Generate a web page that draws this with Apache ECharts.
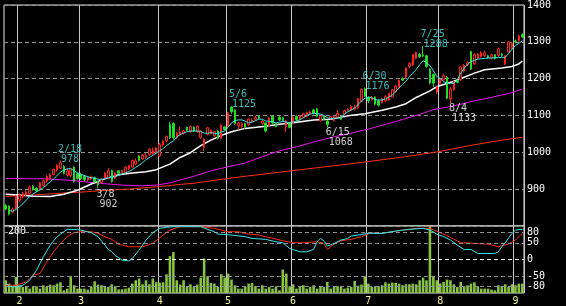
<!DOCTYPE html>
<html><head><meta charset="utf-8">
<script src="https://cdn.jsdelivr.net/npm/echarts@6/dist/echarts.min.js"></script>
<style>html,body{margin:0;padding:0;background:#000;}#c{width:566px;height:306px;}</style>
</head><body><div id="c"></div>
<script>
// month boundaries (category index of first trading day) and labels
const monthStarts = [4,22,45,65,84,106,127,149];
const monthLabels = ['2','3','4','5','6','7','8','9'];

const openP = [856,854,838,849,870,879,884,888,908,903, 900,910,922,928,940,952,957,962,938,937,
 960,942,940,935,925,928,931,920,918,930, 929,951,930,950,945,945,955,960,968,990,
 982,986,993,996,998,990,1020,1031,1076,1078, 1040,1047,1051,1068,1056,1069,1056,1040,1013,1049,
 1051,1045,1058,1038,1069,1071,1123,1115,1072,1070, 1078,1075,1083,1090,1098,1078,1080,1072,1098,1078,
 1096,1094,1070,1080,1078,1098,1090,1095,1098,1104, 1115,1118,1085,1098,1085,1092,1086,1095,1097,1104,
 1113,1114,1117,1121,1139,1172,1148,1143,1150,1140, 1135,1140,1142,1150,1165,1176,1200,1204,1233,1237,
 1255,1266,1265,1262,1226,1211,1163,1186,1197,1204, 1145,1170,1195,1197,1220,1238,1274,1240,1256,1260,
 1262,1262,1256,1265,1263,1267,1240,1272,1284,1302, 1303,1320];
const closeP = [846,832,846,880,884,888,893,906,899,895, 918,923,935,940,954,965,972,943,950,955,
 921,929,929,925,932,934,920,912,928,944, 950,921,944,943,950,960,964,978,977,978,
 992,992,1009,1005,1012,1022,1030,1043,1040,1040, 1052,1056,1058,1060,1070,1058,1071,1058,1036,1067,
 1060,1056,1038,1074,1062,1107,1110,1078,1080,1078, 1068,1090,1088,1094,1093,1085,1058,1094,1080,1070,
 1088,1086,1086,1068,1095,1088,1100,1104,1108,1110, 1106,1098,1098,1090,1075,1097,1098,1106,1090,1113,
 1117,1125,1121,1146,1171,1152,1140,1150,1131,1128, 1146,1152,1160,1170,1180,1196,1196,1229,1242,1265,
 1271,1260,1262,1233,1188,1188,1178,1200,1209,1147, 1172,1192,1190,1232,1237,1243,1226,1266,1267,1270,
 1270,1257,1265,1255,1281,1263,1262,1300,1296,1300, 1316,1313];
const lowP = [843,829,834,843,866,874,880,885,896,892, 897,907,918,925,937,948,955,940,934,933,
 918,926,925,921,920,924,918,902,915,927, 926,918,927,940,942,943,952,958,965,975,
 979,983,990,993,995,988,1016,1028,1036,1035, 1037,1044,1048,1057,1053,1055,1053,1037,1004,1046,
 1048,1042,1035,1035,1059,1068,1105,1075,1062,1065, 1064,1072,1080,1086,1090,1075,1055,1070,1076,1068,
 1085,1083,1055,1065,1076,1085,1088,1093,1096,1101, 1103,1095,1083,1087,1068,1089,1084,1092,1088,1101,
 1110,1111,1114,1118,1136,1150,1134,1140,1128,1124, 1132,1136,1140,1148,1162,1174,1193,1200,1228,1234,
 1252,1256,1258,1230,1185,1178,1158,1183,1194,1144, 1133,1167,1187,1194,1217,1234,1223,1237,1253,1257,
 1258,1254,1252,1252,1260,1260,1237,1268,1281,1296, 1300,1310];
const highP = [859,856,850,885,888,893,897,910,911,905, 920,926,938,943,956,968,978,965,956,958,
 962,945,943,938,936,937,934,922,930,946, 957,953,946,952,953,962,966,980,983,992,
 995,998,1011,1013,1015,1025,1033,1046,1082,1082, 1055,1069,1061,1070,1073,1071,1074,1060,1038,1069,
 1062,1058,1060,1076,1071,1109,1125,1117,1083,1082, 1080,1092,1092,1100,1101,1088,1082,1096,1100,1080,
 1098,1096,1088,1082,1097,1100,1102,1108,1110,1113, 1118,1120,1101,1100,1088,1099,1100,1115,1099,1116,
 1120,1128,1129,1148,1173,1176,1152,1153,1152,1143, 1149,1155,1162,1172,1183,1198,1203,1231,1245,1268,
 1274,1270,1288,1265,1228,1214,1181,1203,1212,1207, 1178,1195,1198,1235,1240,1247,1276,1269,1270,1275,
 1276,1265,1268,1267,1284,1270,1264,1302,1300,1306, 1320,1323];

// moving averages
const maCyan = [null,842,840,845,852,860,870,880,887,893, 898,904,912,920,928,937,946,952,955,956,
 950,944,940,937,934,931,930,927,926,928, 931,932,934,938,941,944,948,953,959,965,
 972,980,986,992,998,1004,1010,1018,1025,1031, 1042,1048,1053,1056,1058,1058,1058,1057,1052,1052,
 1053,1052,1050,1055,1058,1068,1080,1086,1088,1088, 1085,1080,1082,1086,1090,1090,1085,1084,1082,1080,
 1082,1084,1082,1080,1082,1085,1088,1094,1100,1104, 1106,1105,1104,1100,1094,1092,1092,1093,1094,1104,
 1110,1115,1120,1130,1140,1147,1150,1148,1143,1142, 1142,1145,1150,1155,1165,1175,1185,1193,1205,1215,
 1225,1238,1249,1243,1236,1222,1206,1200,1192,1188, 1186,1188,1196,1215,1228,1240,1246,1250,1253,1254,
 1255,1256,1256,1257,1257,1258,1258,1268,1280,1290, 1296,1303];
const maWhite = [[0,886],[4,884],[8,881],[13,880],[17,886],[21,897],[25,914],[29,928],[33,939],[37,944],[41,947],[44,953],[48,968],[51,986],[54,999],[57,1018],[60,1033],[63,1046],[66,1056],[70,1065],[76,1071],[80,1076],[84,1080],[90,1088],[95,1090],[100,1099],[105,1105],[110,1114],[114,1123],[117,1132],[120,1149],[124,1167],[126,1178],[131,1193],[134,1204],[137,1215],[140,1224],[145,1229],[148,1233],[150,1240],[151,1248]];
const maMagenta = [[0,929],[12,928],[19,924],[26,917],[34,911],[40,909],[44,911],[48,917],[51,925],[55,935],[60,950],[65,961],[70,971],[75,988],[80,1004],[85,1015],[90,1028],[95,1040],[100,1050],[106,1063],[111,1076],[116,1089],[121,1103],[125,1116],[131,1126],[137,1140],[142,1149],[148,1162],[151,1172]];
const maRed = [[0,880],[4,883],[10,885],[16,889],[22,892],[28,896],[37,901],[45,907],[51,913],[55,916],[61,924],[70,935],[80,946],[90,957],[100,968],[106,975],[116,987],[126,1001],[136,1019],[145,1033],[151,1041]];

// oscillator lines (lower panel)
const oscCyan = [[0,-70],[1,-80],[3,-82],[5,-77],[7,-62],[9,-32],[11,8],[13,43],[15,68],[17,83],[18,90],[21,90],[23,85],[25,80],[27,68],[28,55],[29,43],[30,30],[31,23],[32,12],[33,6],[34,-2],[36,-4],[37,3],[39,28],[41,58],[43,80],[45,93],[47,96],[49,98],[57,98],[59,90],[61,83],[62,76],[66,73],[70,68],[72,63],[76,60],[79,53],[81,50],[83,33],[86,23],[88,23],[90,30],[91,53],[92,63],[93,56],[94,40],[96,48],[98,58],[100,63],[101,70],[103,73],[106,78],[110,78],[114,85],[118,90],[122,93],[124,88],[126,76],[128,68],[130,58],[132,43],[134,30],[136,30],[138,18],[143,18],[144,23],[145,38],[146,50],[148,78],[149,88],[151,90]];
const oscRed = [[0,-77],[3,-77],[6,-67],[8,-47],[10,-42],[12,-7],[14,23],[16,48],[18,68],[20,80],[22,83],[25,83],[27,78],[29,68],[31,60],[33,46],[36,38],[40,38],[43,48],[46,73],[48,88],[51,98],[57,98],[61,93],[65,83],[68,83],[71,76],[74,73],[76,68],[81,56],[84,50],[87,50],[91,53],[93,48],[94,30],[96,46],[98,56],[101,60],[104,68],[107,80],[110,78],[115,86],[120,93],[124,93],[127,80],[130,66],[133,50],[137,48],[141,46],[144,38],[147,46],[149,58],[151,78]];

const volume = [38,28,23,48,23,18,20,13,20,20, 13,23,18,25,23,28,32,8,13,50,
 23,13,13,13,10,18,35,25,23,18, 18,26,20,11,11,13,16,28,38,43,
 26,38,26,43,32,31,32,56,110,122, 38,25,38,18,26,18,25,46,103,50,
 30,28,18,56,46,58,40,23,13,13, 18,28,30,21,13,23,13,18,13,20,
 8,70,58,20,26,13,20,23,13,18, 23,13,20,18,33,13,18,20,18,13,
 16,18,36,22,25,50,28,18,20,20, 23,32,28,31,30,28,23,26,26,28,
 26,38,46,38,200,50,38,28,33,40, 38,26,18,33,20,23,28,32,20,13,
 13,13,10,8,23,20,26,18,26,23, 28,28];

const oscTickLabels = [80,50,0,-50,-80];
const highNotes = [[16,'2/18','978'],[66,'5/6','1125'],[105,'6/30','1176'],[122,'7/25','1288']];
const lowNotes = [[27,'3/8','902'],[94,'6/15','1068'],[130,'8/4','1133']];

const categories = openP.map((_, i) => String(i));
const ohlc = openP.map((o, i) => [o, closeP[i], lowP[i], highP[i]]);
const FONT = 'DejaVu Sans Mono';
const isMonth = (idx) => monthStarts.indexOf(idx) >= 0;

function noteSeries(notes, src, color, isHigh) {
  return {
    type: 'scatter', xAxisIndex: 0, yAxisIndex: 0, symbolSize: 1, z: 10, silent: true,
    itemStyle: { color: 'rgba(0,0,0,0)' },
    data: notes.map(n => ({ value: [n[0], src[n[0]]], d: n[1], p: n[2] })),
    label: {
      show: true,
      position: isHigh ? [-2, 4] : [-1, 1],
      align: 'left', verticalAlign: isHigh ? 'bottom' : 'top',
      formatter: (p) => '{d|' + p.data.d + '}\n{p|' + p.data.p + '}',
      rich: {
        d: { color: color, fontFamily: FONT, fontSize: 10, lineHeight: 10 },
        p: { color: color, fontFamily: FONT, fontSize: 10, lineHeight: 10, padding: [0, 0, 0, 3] }
      }
    }
  };
}

const chart = echarts.init(document.getElementById('c'), null, { renderer: 'canvas' });
const dash = [4, 3];
chart.setOption({
  backgroundColor: '#000',
  animation: false,
  grid: [
    { left: 4, top: 2, width: 520, height: 224, show: true, borderColor: '#e8e8e8', borderWidth: 1, backgroundColor: '#000' },
    { left: 4, top: 226, width: 520, height: 67, show: true, borderColor: '#e8e8e8', borderWidth: 1, backgroundColor: '#000' }
  ],
  xAxis: [
    { type: 'category', gridIndex: 0, data: categories, boundaryGap: true,
      axisLine: { show: false }, axisTick: { show: false }, axisLabel: { show: false },
      splitLine: { show: true, interval: (i) => isMonth(i), lineStyle: { color: '#c8c8c8', width: 1 } } },
    { type: 'category', gridIndex: 1, data: categories, boundaryGap: true,
      axisLine: { show: false }, axisTick: { show: false },
      axisLabel: { show: true, interval: (i) => isMonth(i), margin: 3,
        formatter: (v, i) => { const k = monthStarts.indexOf(Number(v)); return k >= 0 ? monthLabels[k] : ''; },
        color: '#f4f08a', fontFamily: FONT, fontSize: 10 },
      splitLine: { show: true, interval: (i) => isMonth(i), lineStyle: { color: '#c8c8c8', width: 1 } } }
  ],
  yAxis: [
    { type: 'value', gridIndex: 0, position: 'right', min: 800, max: 1400, interval: 100,
      axisLine: { show: false }, axisTick: { show: false },
      axisLabel: { showMinLabel: false, margin: 3, color: '#fff', fontFamily: FONT, fontSize: 10, padding: [4, 0, 0, 0],
        formatter: (v) => String(v) },
      splitLine: { show: true, lineStyle: { color: '#909090', type: dash, width: 1 } } },
    { type: 'value', gridIndex: 1, position: 'right', min: -100, max: 100, interval: 10,
      axisLine: { show: false }, axisTick: { show: false }, splitLine: { show: false },
      axisLabel: { margin: 3, color: '#fff', fontFamily: FONT, fontSize: 10,
        formatter: (v) => oscTickLabels.indexOf(v) >= 0 ? String(v) : '' } },
    { type: 'value', gridIndex: 1, position: 'left', min: 0, max: 200, interval: 200,
      axisLine: { show: false }, axisTick: { show: false }, splitLine: { show: false },
      axisLabel: { inside: true, showMinLabel: false, margin: 4, verticalAlign: 'top',
        color: '#fff', fontFamily: FONT, fontSize: 10, formatter: (v) => String(v) } }
  ],
  series: [
    { type: 'candlestick', xAxisIndex: 0, yAxisIndex: 0, data: ohlc, barWidth: 2, z: 3,
      itemStyle: { color: '#000', color0: '#22dd22', borderColor: '#ff2020', borderColor0: '#22dd22', borderWidth: 1 } },
    { type: 'line', xAxisIndex: 0, yAxisIndex: 0, data: maRed, showSymbol: false, z: 2,
      lineStyle: { color: '#ff3010', width: 1 } },
    { type: 'line', xAxisIndex: 0, yAxisIndex: 0, data: maMagenta, showSymbol: false, z: 2,
      lineStyle: { color: '#ee10ee', width: 1 } },
    { type: 'line', xAxisIndex: 0, yAxisIndex: 0, data: maWhite, showSymbol: false, z: 2,
      lineStyle: { color: '#ffffff', width: 1.5 } },
    { type: 'line', xAxisIndex: 0, yAxisIndex: 0, data: maCyan, showSymbol: false, z: 4,
      lineStyle: { color: '#40e8e8', width: 1 } },
    noteSeries(highNotes, highP, '#40e8e8', true),
    noteSeries(lowNotes, lowP, '#ffffff', false),
    { type: 'line', xAxisIndex: 1, yAxisIndex: 1, data: categories.map(() => null), showSymbol: false, z: 1, silent: true,
      markLine: { silent: true, symbol: 'none', label: { show: false },
        data: [
          { yAxis: 80, lineStyle: { color: '#909090', type: dash, width: 1 } },
          { yAxis: 50, lineStyle: { color: '#909090', type: dash, width: 1 } },
          { yAxis: 0, lineStyle: { color: '#ffffff', type: dash, width: 1 } },
          { yAxis: -50, lineStyle: { color: '#909090', type: dash, width: 1 } },
          { yAxis: -80, lineStyle: { color: '#909090', type: dash, width: 1 } }
        ] } },
    { type: 'bar', xAxisIndex: 1, yAxisIndex: 2, data: volume, barCategoryGap: '25%', z: 2,
      itemStyle: { color: '#88c440' } },
    { type: 'line', xAxisIndex: 1, yAxisIndex: 1, data: oscRed, showSymbol: false, z: 4,
      lineStyle: { color: '#ff2a10', width: 1 } },
    { type: 'line', xAxisIndex: 1, yAxisIndex: 1, data: oscCyan, showSymbol: false, z: 5,
      lineStyle: { color: '#30e8f0', width: 1 } }
  ]
});
</script>
</body></html>
